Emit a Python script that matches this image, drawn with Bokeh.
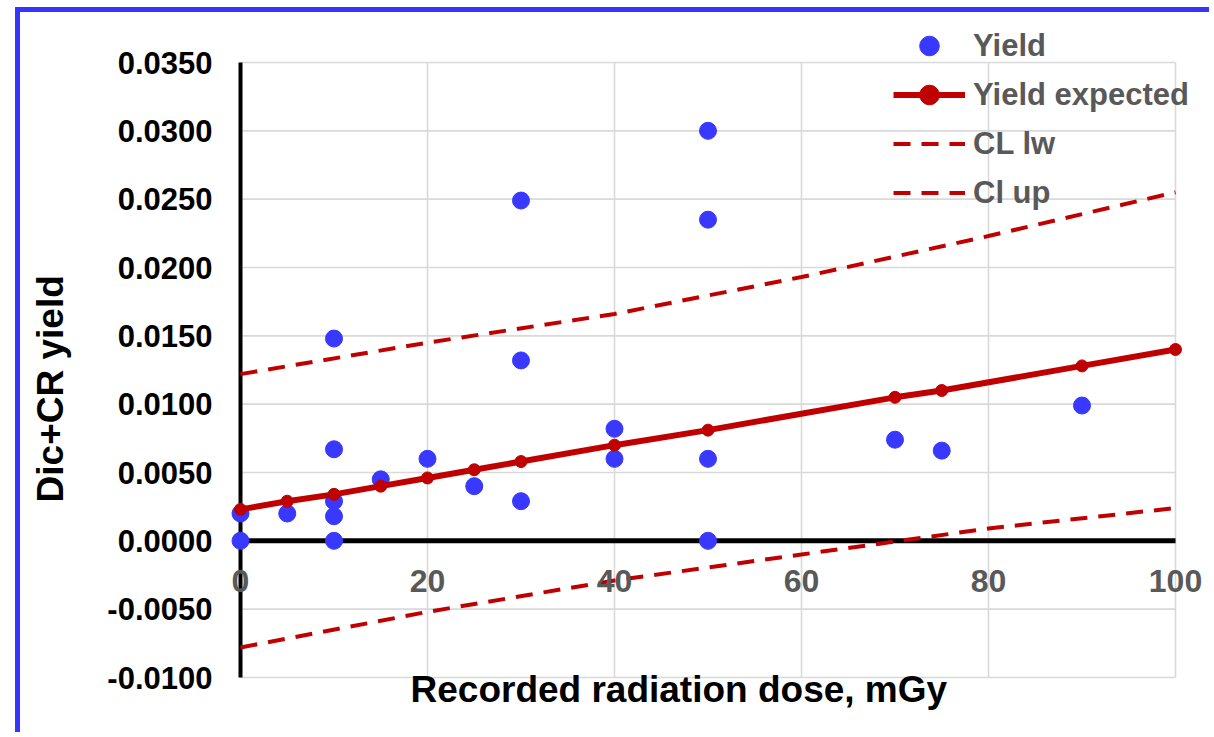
import math
from bokeh.plotting import figure
from bokeh.models import (Legend, LegendItem, ColumnDataSource, Range1d, LabelSet, Label)
from bokeh.core.properties import value
from bokeh.embed import file_html
from bokeh.resources import INLINE

# ---- data ----
yield_dose = [0, 0, 5, 10, 10, 10, 10, 10, 15, 20, 25, 30, 30, 30, 40, 40, 50, 50, 50, 50, 70, 75, 90]
yield_val = [0.0020, 0.0, 0.0020, 0.0148, 0.0067, 0.0029, 0.0018, 0.0, 0.0045, 0.0060, 0.0040,
             0.0249, 0.0132, 0.0029, 0.0082, 0.0060, 0.0300, 0.0235, 0.0060, 0.0, 0.0074, 0.0066, 0.0099]

exp_dose = [0, 5, 10, 15, 20, 25, 30, 40, 50, 70, 75, 90, 100]
exp_val = [0.0023, 0.0029, 0.0034, 0.0040, 0.0046, 0.0052, 0.0058, 0.0070, 0.0081, 0.0105, 0.0110, 0.0128, 0.0140]

cl_dose = [0, 20, 40, 60, 80, 100]
cl_lw = [-0.0078, -0.0052, -0.0029, -0.0010, 0.0009, 0.0024]
cl_up = [0.0122, 0.0145, 0.0166, 0.0193, 0.0223, 0.0255]

x_ticks = [0, 20, 40, 60, 80, 100]
x_tick_labels = ["0", "20", "40", "60", "80", "100"]
y_ticks = [-0.010, -0.005, 0.0, 0.005, 0.010, 0.015, 0.020, 0.025, 0.030, 0.035]
y_tick_labels = ["-0.0100", "-0.0050", "0.0000", "0.0050", "0.0100", "0.0150",
                 "0.0200", "0.0250", "0.0300", "0.0350"]

x_title = "Recorded radiation dose, mGy"
y_title = "Dic+CR yield"

FONT = "Liberation Sans"
RED = "#C00000"
BLUE = "#3838FF"
GRAY = "#595959"
GRID = "#D9D9D9"

# ---- layout (pixels inside the figure) ----
FIG_W, FIG_H = 1194, 725
X_LO_PX, X_HI_PX = 220, 1155      # where the axis start / end sit
Y_HI_PX, Y_LO_PX = 50, 665        # where the axis top / bottom sit
x_lo, x_hi = x_ticks[0], x_ticks[-1]
y_lo, y_hi = y_ticks[0], y_ticks[-1]
sx = (X_HI_PX - X_LO_PX) / (x_hi - x_lo)
sy = (Y_LO_PX - Y_HI_PX) / (y_hi - y_lo)
xr = Range1d(x_lo - X_LO_PX / sx, x_hi + (FIG_W - X_HI_PX) / sx)
yr = Range1d(y_lo - (FIG_H - Y_LO_PX) / sy, y_hi + Y_HI_PX / sy)

p = figure(width=FIG_W, height=FIG_H, output_backend="svg", toolbar_location=None,
           x_range=xr, y_range=yr, x_axis_location=None, y_axis_location=None,
           min_border=0)
p.styles = {"margin-left": "15px", "margin-top": "7px",
            "border-left": "5px solid #3535FF", "border-top": "5px solid #3535FF"}
p.outline_line_color = None
p.background_fill_color = "white"
p.border_fill_color = "white"
p.xgrid.visible = False
p.ygrid.visible = False

# gridlines limited to the axis box
p.segment(x0=x_ticks[1:], y0=[y_lo] * (len(x_ticks) - 1), x1=x_ticks[1:], y1=[y_hi] * (len(x_ticks) - 1),
          line_color=GRID, line_width=1.6)
p.segment(x0=[x_lo] * len(y_ticks), y0=y_ticks, x1=[x_hi] * len(y_ticks), y1=y_ticks,
          line_color=GRID, line_width=1.6)

# axis lines (x axis crosses at y = 0)
p.segment(x0=[x_lo], y0=[y_lo], x1=[x_lo], y1=[y_hi], line_color="black", line_width=4)
p.segment(x0=[x_lo], y0=[0], x1=[x_hi], y1=[0], line_color="black", line_width=5)

# series
r_lw = p.line(cl_dose, cl_lw, line_color=RED, line_width=4, line_dash="17 11")
r_up = p.line(cl_dose, cl_up, line_color=RED, line_width=4, line_dash="17 11")
r_y = p.scatter(yield_dose, yield_val, size=17, fill_color=BLUE, line_color=BLUE)
r_el = p.line(exp_dose, exp_val, line_color=RED, line_width=6)
r_ep = p.scatter(exp_dose, exp_val, size=12, fill_color=RED, line_color=RED)

# tick labels
xl_src = ColumnDataSource(dict(x=x_ticks, y=[0] * len(x_ticks), t=x_tick_labels))
p.add_layout(LabelSet(x="x", y="y", text="t", source=xl_src, text_align="center",
                      text_baseline="middle", y_offset=-40, text_font=value(FONT),
                      text_font_style="bold", text_font_size="32px", text_color=GRAY))
yl_src = ColumnDataSource(dict(x=[x_lo] * len(y_ticks), y=y_ticks, t=y_tick_labels))
p.add_layout(LabelSet(x="x", y="y", text="t", source=yl_src, text_align="right",
                      text_baseline="middle", x_offset=-28, text_font=value(FONT),
                      text_font_style="bold", text_font_size="31px", text_color="black"))

# axis titles
p.add_layout(Label(x=x_lo, y=y_lo, text=x_title, x_offset=170, y_offset=9,
                   text_align="left", text_baseline="top", text_font=FONT,
                   text_font_style="bold", text_font_size="37px", text_color="black"))
p.add_layout(Label(x=x_lo, y=0, text=y_title, x_offset=-190, y_offset=152, angle=math.pi / 2,
                   text_align="center", text_baseline="middle", text_font=FONT,
                   text_font_style="bold", text_font_size="37px", text_color="black"))

legend = Legend(items=[
    LegendItem(label="Yield", renderers=[r_y]),
    LegendItem(label="Yield expected", renderers=[r_el, r_ep]),
    LegendItem(label="CL lw", renderers=[r_lw]),
    LegendItem(label="Cl up", renderers=[r_up]),
], location=(873, 520), orientation="vertical")
legend.glyph_width = 72
legend.glyph_height = 49
legend.label_height = 49
legend.label_standoff = 8
legend.spacing = 0
legend.padding = 0
legend.margin = 0
legend.border_line_color = None
legend.background_fill_alpha = 0
legend.label_text_font = FONT
legend.label_text_font_style = "bold"
legend.label_text_font_size = "31px"
legend.label_text_color = GRAY
p.add_layout(legend, "center")

open("out.html", "w").write(file_html(p, INLINE))
